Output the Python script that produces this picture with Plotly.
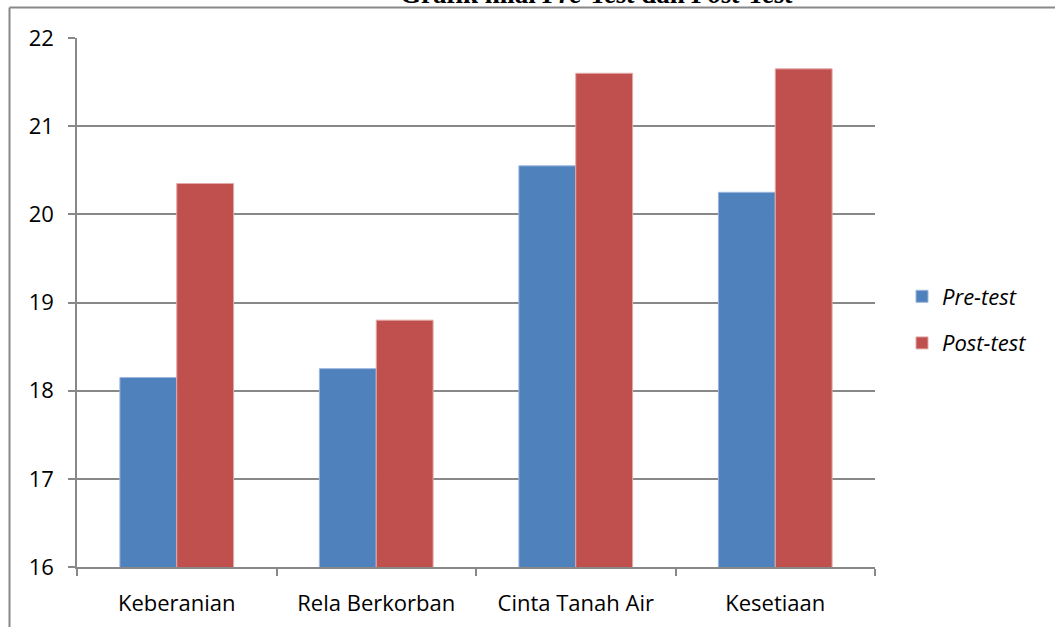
import plotly.graph_objects as go

categories = ["Keberanian", "Rela Berkorban", "Cinta Tanah Air", "Kesetiaan"]
pre_test = [18.15, 18.25, 20.55, 20.25]
post_test = [20.35, 18.8, 21.6, 21.65]
y_ticks = [16, 17, 18, 19, 20, 21, 22]

W, H = 1055, 627
L, R, T, B = 77, 180, 38, 60
pw, ph = W - L - R, H - T - B

def px_x(x):
    return (x - L) / pw

def px_y(y):
    return (H - B - y) / ph

fig = go.Figure()
fig.add_trace(go.Bar(x=categories, y=pre_test, name="<i>Pre-test</i>",
                     marker=dict(color="#4F81BD", line=dict(color="#9DB7DC", width=1)),
                     legendgroup="a"))
fig.add_trace(go.Bar(x=categories, y=post_test, name="<i>Post-test</i>",
                     marker=dict(color="#C0504D", line=dict(color="#E3A9A8", width=1)),
                     legendgroup="b"))

fig.update_layout(
    width=W, height=H,
    margin=dict(l=L, r=R, t=T, b=B, autoexpand=False),
    plot_bgcolor="white", paper_bgcolor="white",
    barmode="group", bargap=0.43, bargroupgap=0,
    font=dict(family="Open Sans, sans-serif", size=22, color="black"),
    legend=dict(x=px_x(902), y=px_y(320), xanchor="left", yanchor="middle",
                font=dict(size=22), tracegroupgap=15, traceorder="grouped",
                bgcolor="rgba(0,0,0,0)", itemwidth=30),
    xaxis=dict(showgrid=False, showline=True, linecolor="#888888", linewidth=1.5,
               ticks="outside", tickson="boundaries", ticklen=7, tickcolor="#888888",
               tickwidth=1.5, tickfont=dict(size=22), ticklabelstandoff=16),
    yaxis=dict(range=[16, 22], tickvals=y_ticks, showgrid=True, gridcolor="#888888",
               gridwidth=1.5, showline=True, linecolor="#888888", linewidth=1.5,
               ticks="outside", ticklen=7, tickcolor="#888888", tickwidth=1.5,
               tickfont=dict(size=22), zeroline=False, ticklabelstandoff=10),
    shapes=[
        dict(type="line", xref="paper", yref="paper", x0=px_x(9.5), x1=px_x(1060),
             y0=px_y(7.5), y1=px_y(7.5), line=dict(color="#888888", width=2)),
        dict(type="line", xref="paper", yref="paper", x0=px_x(9.5), x1=px_x(9.5),
             y0=px_y(7.5), y1=px_y(640), line=dict(color="#888888", width=2)),
    ],
    annotations=[
        dict(text="<b>Grafik nilai <i>Pre-Test</i> dan <i>Post-Test</i></b>",
             xref="paper", yref="paper", x=px_x(597), y=px_y(-6),
             xanchor="center", yanchor="middle", showarrow=False,
             font=dict(family="Liberation Serif, serif", size=27, color="black")),
    ],
)

fig.write_html("out.html", config={"displayModeBar": False},
               post_script="document.body.style.margin='0';")
